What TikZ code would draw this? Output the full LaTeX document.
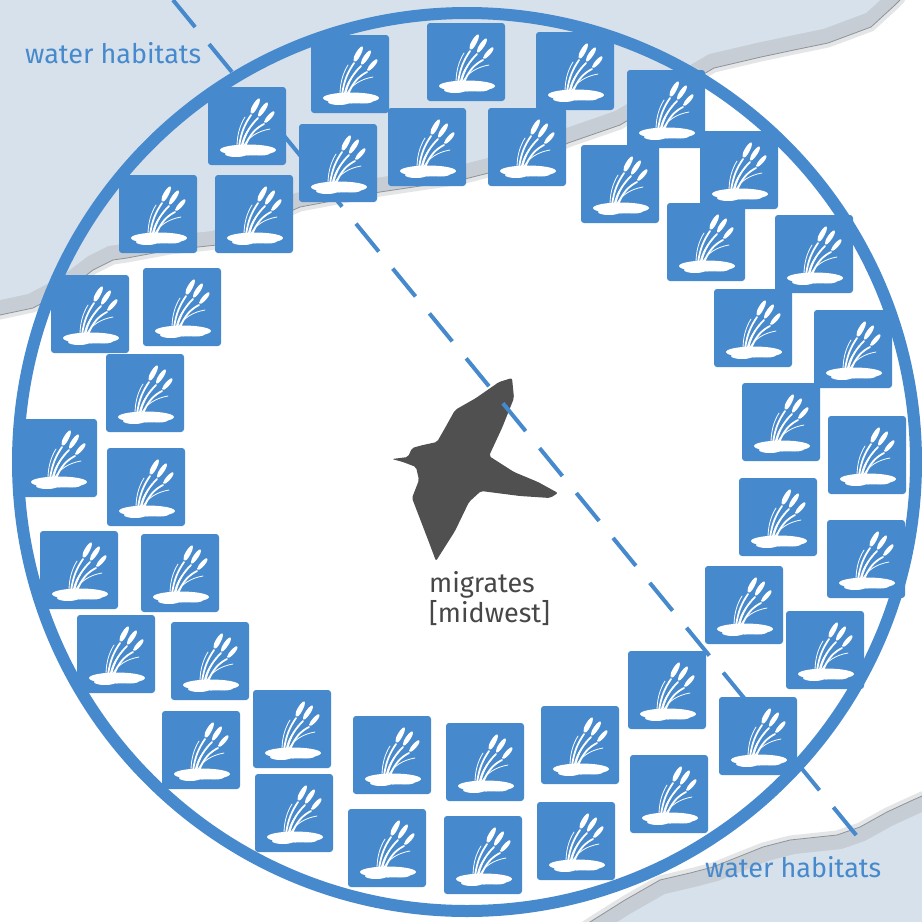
\documentclass[tikz,border=0pt]{standalone}
\usepackage{fontspec}
\setmainfont{Fira Sans}
\usetikzlibrary{positioning}

\definecolor{habblue}{HTML}{4689CC}
\definecolor{waterbg}{HTML}{D7E1EB}
\definecolor{shore}{HTML}{C6CDD4}
\definecolor{fringe}{HTML}{E3E5E7}
\definecolor{coast}{HTML}{8E9398}
\definecolor{birdgray}{HTML}{505050}
\definecolor{labelgray}{HTML}{474747}

% reeds standing in a puddle, drawn inside every habitat tile
\newcommand{\reedicon}{%
	\begin{scope}[shift={(path picture bounding box.center)}, white, line cap=round]
		\fill (1,24) ellipse [x radius=28pt, y radius=5.5pt];
		\fill (-11,28) ellipse [x radius=11pt, y radius=3pt];
		\fill (14,27) ellipse [x radius=9pt, y radius=2.5pt];
		\draw[line width=1.8pt] (-8,21) .. controls (-6,6) and (-2,-2) .. (4,-11);
		\draw[line width=1.8pt] (-5,21) .. controls (-2,7) and (4,-1) .. (11,-8);
		\draw[line width=1.8pt] (-2,21) .. controls (2,9) and (9,2) .. (17,-2);
		\draw[line width=0.8pt] (-10,21) .. controls (-10,9) and (-7,-1) .. (-2,-9);
		\draw[line width=0.8pt] (-4,21) .. controls (1,11) and (11,5) .. (23,3);
		\draw[line width=0.8pt] (-6,21) .. controls (-4,10) and (1,3) .. (7,-3);
		% seed heads
		\fill (4,-11) .. controls (3,-18) and (8,-25) .. (13,-29) .. controls (13,-23) and (9,-15) .. cycle;
		\fill (11,-8) .. controls (11,-15) and (16,-21) .. (21,-25) .. controls (21,-19) and (16,-12) .. cycle;
		\fill (17,-2) .. controls (18,-8) and (23,-13) .. (28,-16) .. controls (27,-10) and (22,-5) .. cycle;
	\end{scope}}

\newcommand{\northwater}{(-10,-10) -- (905,-10) -- (900,0) -- (895,5) -- (871,27) -- (828,43) -- (794,50) -- (761,57) -- (714,68) -- (690,82) -- (670,95) -- (620,125) -- (568,143) -- (520,165) -- (461,180) -- (380,192) -- (300,207) -- (260,225) -- (217,245) -- (170,250) -- (127,258) -- (113,260) -- (93,270) -- (67,290) -- (33,308) -- (0,315) -- (-10,318) -- cycle}
\newcommand{\southwater}{(932,932) -- (932,793) -- (922,796) -- (913,800) -- (887,812) -- (860,827) -- (837,835) -- (790,840) -- (763,847) -- (713,867) -- (690,873) -- (660,880) -- (625,900) -- (590,922) -- (575,932) -- cycle}

\tikzset{
	habitat/.style={rectangle, fill=habblue, rounded corners=3pt, minimum size=78pt, inner sep=0pt, path picture={\reedicon}},
	labeltext/.style={inner sep=0pt, font=\fontsize{27}{30}\selectfont},
	shoreline/.style={fill=shore, draw=coast, line width=0.8pt, preaction={draw=fringe, line width=9pt}},
}

\begin{document}
\begin{tikzpicture}[x=1pt, y=-1pt]
	\useasboundingbox (0,0) rectangle (922,922);
	\fill[white] (0,0) rectangle (922,922);

	% Draw the water on both shores.
	\path[shoreline] \northwater;
	\fill[waterbg, shift={(-5,-14)}] \northwater;
	\path[shoreline] \southwater;
	\fill[waterbg, shift={(5,14)}] \southwater;

	% The ring and the bird.
	\draw[habblue, line width=12pt] (467,462) circle [radius=449pt];
	\fill[birdgray, rounded corners=2pt] (392,459) -- (408,457) -- (412,448) -- (423,445) -- (437,442) -- (445,428) -- (455,410) -- (476,398) -- (499,382) -- (512,378) -- (514,398) -- (502,428) -- (489,456) -- (514,472) -- (538,482) -- (558,493) -- (550,498) -- (520,496) -- (481,491) -- (469,502) -- (455,531) -- (436,561) -- (430,545) -- (412,498) -- (419,480) -- (416,467) -- (403,462) -- cycle;

	% Flight path.
	\coordinate (flyin) at (173,0);
	\coordinate (flyout) at (861,841);
	\draw[habblue, line width=4pt, dash pattern=on 36pt off 22pt, dash phase=1pt] (flyin) -- (flyout);

	% Draw the habitat tiles.
	\foreach \x/\y [count=\i] in {247/126, 350/74, 466/62, 338/163, 427/147, 527/147, 575/71, 666/109, 620/184, 739/170, 706/242, 814/254, 753/328, 853/349, 781/422, 867/455, 778/517, 866/559, 825/650, 744/605, 667/690, 758/736, 669/794, 580/745, 576/841, 485/762, 483/855, 392/755, 387/848, 292/729, 294/813, 201/750, 210/661, 116/654, 180/573, 79/570, 146/487, 58/458, 145/393, 182/307, 90/314, 158/214, 254/214}
		\node[habitat] (h\i) at (\x,\y) {};

	% Labels
	\node[labeltext, anchor=base west, text=habblue] (whnorth) at (25,63) {water habitats};
	\node[labeltext, anchor=base west, text=habblue] (whsouth) at (705,877) {water habitats};
	\node[labeltext, anchor=base west, text=labelgray] (mig) at (429,592) {migrates};
	\node[labeltext, below=30pt of mig.base west, anchor=base west, text=labelgray] (mid) {[midwest]};
\end{tikzpicture}
\end{document}
